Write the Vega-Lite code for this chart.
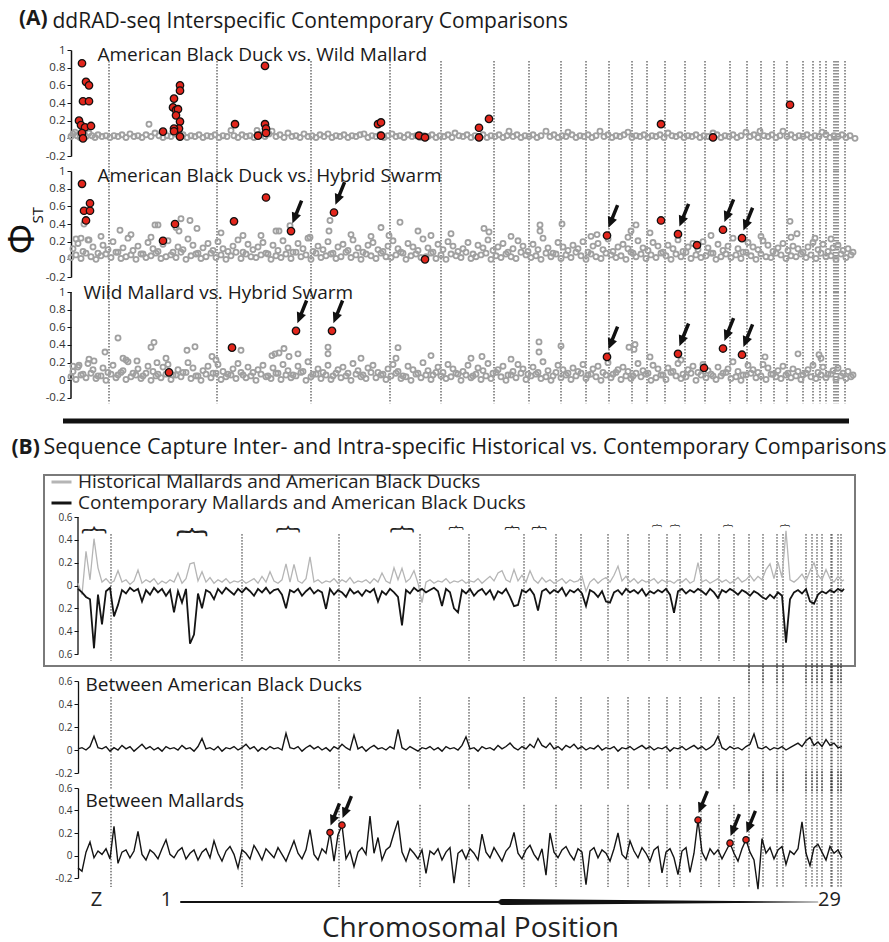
{
"$schema": "https://vega.github.io/schema/vega-lite/v6.json",
"padding": {"left": 5, "top": 8, "right": 5, "bottom": 3},
"config": {
  "view": {"stroke": null},
  "font": "Open Sans",
  "axis": {"grid": false, "domainColor": "#111", "tickColor": "#111", "labelColor": "#333", "labelFont": "Open Sans", "titleFont": "Open Sans", "titleFontWeight": "normal", "titleColor": "#1a1a1a", "labelOverlap": false},
  "title": {"font": "Open Sans", "color": "#1a1a1a", "fontWeight": "normal", "anchor": "start", "frame": "group"}
},
"datasets": {
"ca": [{"p":38},{"p":146},{"p":240},{"p":319},{"p":370},{"p":423},{"p":458},{"p":490},{"p":515},{"p":538},{"p":561},{"p":576},{"p":594},{"p":614},{"p":634},{"p":659},{"p":676},{"p":690},{"p":703},{"p":716},{"p":732},{"p":742},{"p":749},{"p":755},{"p":763},{"p":765},{"p":767},{"p":774}],
"cb": [{"p":33},{"p":164},{"p":261},{"p":342},{"p":391},{"p":446},{"p":478},{"p":503},{"p":530},{"p":550},{"p":571},{"p":589},{"p":602},{"p":623},{"p":641},{"p":656},{"p":671},{"p":685},{"p":699},{"p":705},{"p":728},{"p":734},{"p":739},{"p":744},{"p":753},{"p":754},{"p":760},{"p":763}],
"br": [{"p":16,"w":22},{"p":114,"w":28},{"p":210,"w":21},{"p":324,"w":21},{"p":378,"w":12},{"p":434,"w":12},{"p":461,"w":12},{"p":579,"w":7},{"p":597,"w":7},{"p":650,"w":7},{"p":707,"w":7}],
"wd": [{"p":103,"w":2},{"p":420,"w":2},{"p":424,"w":6},{"p":740,"w":0.6}],
"a1r": [{"p":11,"v":0.85},{"p":15,"v":0.64},{"p":18,"v":0.6},{"p":12,"v":0.42},{"p":18,"v":0.42},{"p":8,"v":0.2},{"p":10,"v":0.15},{"p":14,"v":0.125},{"p":20,"v":0.14},{"p":11,"v":0.06},{"p":12,"v":0.0},{"p":92,"v":0.076},{"p":103,"v":0.45},{"p":102,"v":0.35},{"p":105,"v":0.32},{"p":107,"v":0.33},{"p":105,"v":0.26},{"p":109,"v":0.19},{"p":108,"v":0.11},{"p":103,"v":0.11},{"p":109,"v":0.6},{"p":109,"v":0.54},{"p":109,"v":0.02},{"p":103,"v":0.08},{"p":164,"v":0.16},{"p":194,"v":0.82},{"p":194,"v":0.16},{"p":195,"v":0.11},{"p":187,"v":0.03},{"p":195,"v":0.06},{"p":307,"v":0.16},{"p":310,"v":0.18},{"p":310,"v":0.03},{"p":348,"v":0.03},{"p":354,"v":0.01},{"p":408,"v":0.12},{"p":408,"v":0.01},{"p":418,"v":0.22},{"p":590,"v":0.16},{"p":642,"v":0.01},{"p":719,"v":0.38}],
"a2r": [{"p":11,"v":0.855},{"p":13,"v":0.55},{"p":19,"v":0.55},{"p":19,"v":0.635},{"p":15,"v":0.44},{"p":92,"v":0.21},{"p":104,"v":0.4},{"p":163,"v":0.43},{"p":195,"v":0.7},{"p":220,"v":0.32,"s":1},{"p":263,"v":0.53,"s":1},{"p":354,"v":0.0},{"p":536,"v":0.27,"s":1},{"p":590,"v":0.44},{"p":607,"v":0.285,"s":1},{"p":626,"v":0.16},{"p":652,"v":0.335,"s":1},{"p":671,"v":0.24,"s":1}],
"a3r": [{"p":98,"v":0.09},{"p":161,"v":0.37},{"p":225,"v":0.56,"s":1},{"p":261,"v":0.56,"s":1},{"p":536,"v":0.265,"s":1},{"p":607,"v":0.3,"s":1},{"p":633,"v":0.14},{"p":652,"v":0.36,"s":1},{"p":671,"v":0.29,"s":1}],
"b3r": [{"p":252,"v":0.205},{"p":264,"v":0.27},{"p":620,"v":0.315},{"p":652,"v":0.11},{"p":668,"v":0.14}],
"a1g": [{"p":0,"v":0.02},{"p":2,"v":0.05},{"p":4,"v":0.07},{"p":6,"v":0.03},{"p":9,"v":0.01},{"p":12,"v":0.04},{"p":15,"v":0.02},{"p":18,"v":0.06},{"p":21,"v":0.03},{"p":24,"v":0.01},{"p":27,"v":0.04},{"p":31,"v":0.02},{"p":35,"v":0.03},{"p":39,"v":0.01},{"p":43,"v":0.03},{"p":47,"v":0.02},{"p":51,"v":0.04},{"p":55,"v":0.01},{"p":59,"v":0.05},{"p":63,"v":0.02},{"p":67,"v":0.03},{"p":71,"v":0.01},{"p":75,"v":0.04},{"p":78,"v":0.16},{"p":80,"v":0.02},{"p":84,"v":0.06},{"p":88,"v":0.03},{"p":92,"v":0.01},{"p":96,"v":0.03},{"p":100,"v":0.02},{"p":104,"v":0.05},{"p":108,"v":0.02},{"p":112,"v":0.04},{"p":116,"v":0.01},{"p":120,"v":0.03},{"p":124,"v":0.02},{"p":128,"v":0.04},{"p":132,"v":0.01},{"p":136,"v":0.03},{"p":140,"v":0.02},{"p":144,"v":0.04},{"p":148,"v":0.01},{"p":152,"v":0.03},{"p":156,"v":0.02},{"p":160,"v":0.09},{"p":163,"v":0.03},{"p":167,"v":0.01},{"p":171,"v":0.04},{"p":175,"v":0.02},{"p":179,"v":0.03},{"p":183,"v":0.01},{"p":186,"v":0.09},{"p":190,"v":0.04},{"p":194,"v":0.02},{"p":198,"v":0.05},{"p":201,"v":0.08},{"p":205,"v":0.02},{"p":209,"v":0.04},{"p":213,"v":0.01},{"p":217,"v":0.06},{"p":221,"v":0.02},{"p":225,"v":0.03},{"p":229,"v":0.01},{"p":233,"v":0.05},{"p":237,"v":0.02},{"p":241,"v":0.03},{"p":245,"v":0.01},{"p":249,"v":0.04},{"p":253,"v":0.02},{"p":257,"v":0.05},{"p":261,"v":0.01},{"p":265,"v":0.03},{"p":269,"v":0.02},{"p":273,"v":0.04},{"p":277,"v":0.01},{"p":281,"v":0.03},{"p":285,"v":0.02},{"p":289,"v":0.04},{"p":293,"v":0.05},{"p":297,"v":0.01},{"p":301,"v":0.03},{"p":305,"v":0.02},{"p":309,"v":0.04},{"p":313,"v":0.01},{"p":317,"v":0.03},{"p":321,"v":0.05},{"p":325,"v":0.02},{"p":329,"v":0.03},{"p":333,"v":0.01},{"p":337,"v":0.04},{"p":341,"v":0.02},{"p":345,"v":0.03},{"p":349,"v":0.01},{"p":353,"v":0.03},{"p":357,"v":0.02},{"p":361,"v":0.04},{"p":365,"v":0.01},{"p":369,"v":0.03},{"p":373,"v":0.02},{"p":377,"v":0.04},{"p":381,"v":0.01},{"p":384,"v":0.06},{"p":388,"v":0.03},{"p":392,"v":0.02},{"p":396,"v":0.04},{"p":400,"v":0.01},{"p":404,"v":0.03},{"p":408,"v":0.02},{"p":412,"v":0.04},{"p":416,"v":0.01},{"p":420,"v":0.03},{"p":424,"v":0.02},{"p":428,"v":0.04},{"p":432,"v":0.01},{"p":436,"v":0.03},{"p":438,"v":0.08},{"p":442,"v":0.02},{"p":446,"v":0.04},{"p":450,"v":0.01},{"p":454,"v":0.03},{"p":458,"v":0.02},{"p":462,"v":0.04},{"p":466,"v":0.01},{"p":470,"v":0.03},{"p":475,"v":0.08},{"p":479,"v":0.02},{"p":483,"v":0.04},{"p":487,"v":0.01},{"p":491,"v":0.03},{"p":495,"v":0.02},{"p":497,"v":0.07},{"p":501,"v":0.04},{"p":505,"v":0.01},{"p":509,"v":0.03},{"p":513,"v":0.02},{"p":517,"v":0.04},{"p":521,"v":0.01},{"p":525,"v":0.03},{"p":529,"v":0.08},{"p":533,"v":0.02},{"p":537,"v":0.04},{"p":541,"v":0.01},{"p":545,"v":0.03},{"p":549,"v":0.02},{"p":553,"v":0.04},{"p":557,"v":0.07},{"p":561,"v":0.01},{"p":565,"v":0.03},{"p":569,"v":0.02},{"p":573,"v":0.04},{"p":577,"v":0.01},{"p":581,"v":0.03},{"p":585,"v":0.02},{"p":589,"v":0.04},{"p":593,"v":0.01},{"p":597,"v":0.06},{"p":601,"v":0.03},{"p":605,"v":0.02},{"p":609,"v":0.04},{"p":613,"v":0.01},{"p":617,"v":0.03},{"p":621,"v":0.02},{"p":625,"v":0.04},{"p":629,"v":0.01},{"p":633,"v":0.03},{"p":637,"v":0.02},{"p":642,"v":0.06},{"p":646,"v":0.04},{"p":650,"v":0.01},{"p":654,"v":0.03},{"p":658,"v":0.02},{"p":662,"v":0.04},{"p":666,"v":0.01},{"p":670,"v":0.03},{"p":675,"v":0.07},{"p":679,"v":0.02},{"p":683,"v":0.04},{"p":687,"v":0.01},{"p":689,"v":0.08},{"p":693,"v":0.03},{"p":697,"v":0.02},{"p":701,"v":0.04},{"p":705,"v":0.01},{"p":709,"v":0.03},{"p":712,"v":0.08},{"p":716,"v":0.02},{"p":720,"v":0.04},{"p":724,"v":0.01},{"p":728,"v":0.03},{"p":732,"v":0.02},{"p":736,"v":0.04},{"p":740,"v":0.01},{"p":744,"v":0.03},{"p":748,"v":0.02},{"p":751,"v":0.07},{"p":755,"v":0.04},{"p":759,"v":0.01},{"p":763,"v":0.03},{"p":767,"v":0.02},{"p":771,"v":0.04},{"p":775,"v":0.01},{"p":779,"v":0.03},{"p":784,"v":0.0}],
"a2g": [{"p":0,"v":0.02},{"p":5,"v":0.05},{"p":10,"v":0.01},{"p":15,"v":0.07},{"p":20,"v":0.03},{"p":25,"v":0.0},{"p":30,"v":0.04},{"p":35,"v":0.06},{"p":40,"v":0.02},{"p":45,"v":0.08},{"p":50,"v":0.01},{"p":55,"v":0.03},{"p":60,"v":0.05},{"p":65,"v":0.0},{"p":70,"v":0.06},{"p":75,"v":0.02},{"p":80,"v":0.04},{"p":85,"v":0.07},{"p":90,"v":0.01},{"p":95,"v":0.03},{"p":100,"v":0.05},{"p":105,"v":0.02},{"p":110,"v":0.08},{"p":115,"v":0.0},{"p":120,"v":0.04},{"p":125,"v":0.06},{"p":130,"v":0.01},{"p":135,"v":0.03},{"p":140,"v":0.07},{"p":145,"v":0.02},{"p":150,"v":0.05},{"p":155,"v":0.0},{"p":160,"v":0.04},{"p":165,"v":0.08},{"p":170,"v":0.01},{"p":175,"v":0.06},{"p":180,"v":0.03},{"p":185,"v":0.02},{"p":190,"v":0.05},{"p":195,"v":0.07},{"p":200,"v":0.0},{"p":205,"v":0.04},{"p":210,"v":0.02},{"p":215,"v":0.06},{"p":220,"v":0.01},{"p":225,"v":0.08},{"p":230,"v":0.03},{"p":235,"v":0.05},{"p":240,"v":0.0},{"p":245,"v":0.07},{"p":250,"v":0.02},{"p":255,"v":0.04},{"p":260,"v":0.06},{"p":265,"v":0.01},{"p":270,"v":0.03},{"p":275,"v":0.08},{"p":280,"v":0.02},{"p":285,"v":0.05},{"p":290,"v":0.0},{"p":295,"v":0.06},{"p":300,"v":0.04},{"p":305,"v":0.01},{"p":310,"v":0.07},{"p":315,"v":0.03},{"p":320,"v":0.02},{"p":325,"v":0.05},{"p":330,"v":0.08},{"p":335,"v":0.0},{"p":340,"v":0.04},{"p":345,"v":0.06},{"p":350,"v":0.02},{"p":355,"v":0.03},{"p":360,"v":0.07},{"p":365,"v":0.01},{"p":370,"v":0.05},{"p":375,"v":0.0},{"p":380,"v":0.06},{"p":385,"v":0.04},{"p":390,"v":0.02},{"p":395,"v":0.08},{"p":400,"v":0.01},{"p":405,"v":0.03},{"p":410,"v":0.05},{"p":415,"v":0.07},{"p":420,"v":0.0},{"p":425,"v":0.04},{"p":430,"v":0.02},{"p":435,"v":0.06},{"p":440,"v":0.03},{"p":445,"v":0.01},{"p":450,"v":0.08},{"p":455,"v":0.05},{"p":460,"v":0.02},{"p":465,"v":0.04},{"p":470,"v":0.0},{"p":475,"v":0.07},{"p":480,"v":0.03},{"p":485,"v":0.06},{"p":490,"v":0.01},{"p":495,"v":0.05},{"p":500,"v":0.02},{"p":505,"v":0.08},{"p":510,"v":0.04},{"p":515,"v":0.0},{"p":520,"v":0.06},{"p":525,"v":0.03},{"p":530,"v":0.01},{"p":535,"v":0.07},{"p":540,"v":0.05},{"p":545,"v":0.02},{"p":550,"v":0.04},{"p":555,"v":0.0},{"p":560,"v":0.08},{"p":565,"v":0.03},{"p":570,"v":0.06},{"p":575,"v":0.01},{"p":580,"v":0.05},{"p":585,"v":0.02},{"p":590,"v":0.07},{"p":595,"v":0.04},{"p":600,"v":0.0},{"p":605,"v":0.06},{"p":610,"v":0.03},{"p":615,"v":0.08},{"p":620,"v":0.01},{"p":625,"v":0.05},{"p":630,"v":0.02},{"p":635,"v":0.04},{"p":640,"v":0.07},{"p":645,"v":0.0},{"p":650,"v":0.03},{"p":655,"v":0.06},{"p":660,"v":0.02},{"p":665,"v":0.05},{"p":670,"v":0.01},{"p":675,"v":0.08},{"p":680,"v":0.04},{"p":685,"v":0.0},{"p":690,"v":0.06},{"p":695,"v":0.03},{"p":700,"v":0.02},{"p":705,"v":0.07},{"p":710,"v":0.05},{"p":715,"v":0.01},{"p":720,"v":0.04},{"p":725,"v":0.03},{"p":730,"v":0.06},{"p":735,"v":0.02},{"p":740,"v":0.05},{"p":745,"v":0.01},{"p":750,"v":0.07},{"p":755,"v":0.03},{"p":760,"v":0.04},{"p":765,"v":0.0},{"p":770,"v":0.06},{"p":775,"v":0.02},{"p":780,"v":0.05},
{"p":2,"v":0.12},{"p":7,"v":0.18},{"p":12,"v":0.09},{"p":17,"v":0.22},{"p":22,"v":0.14},{"p":27,"v":0.07},{"p":32,"v":0.16},{"p":37,"v":0.11},{"p":42,"v":0.2},{"p":47,"v":0.08},{"p":52,"v":0.13},{"p":57,"v":0.24},{"p":62,"v":0.1},{"p":67,"v":0.15},{"p":72,"v":0.06},{"p":77,"v":0.19},{"p":82,"v":0.12},{"p":87,"v":0.09},{"p":92,"v":0.17},{"p":97,"v":0.21},{"p":102,"v":0.08},{"p":107,"v":0.14},{"p":112,"v":0.11},{"p":117,"v":0.23},{"p":122,"v":0.16},{"p":127,"v":0.07},{"p":132,"v":0.13},{"p":137,"v":0.18},{"p":142,"v":0.1},{"p":147,"v":0.2},{"p":152,"v":0.12},{"p":157,"v":0.09},{"p":162,"v":0.15},{"p":167,"v":0.22},{"p":172,"v":0.08},{"p":177,"v":0.17},{"p":182,"v":0.11},{"p":187,"v":0.14},{"p":192,"v":0.19},{"p":197,"v":0.06},{"p":202,"v":0.16},{"p":207,"v":0.1},{"p":212,"v":0.21},{"p":217,"v":0.13},{"p":222,"v":0.08},{"p":227,"v":0.18},{"p":232,"v":0.12},{"p":237,"v":0.24},{"p":242,"v":0.09},{"p":247,"v":0.15},{"p":252,"v":0.11},{"p":257,"v":0.2},{"p":262,"v":0.07},{"p":267,"v":0.14},{"p":272,"v":0.17},{"p":277,"v":0.1},{"p":282,"v":0.22},{"p":287,"v":0.13},{"p":292,"v":0.08},{"p":297,"v":0.16},{"p":302,"v":0.19},{"p":307,"v":0.11},{"p":312,"v":0.09},{"p":317,"v":0.15},{"p":322,"v":0.21},{"p":327,"v":0.12},{"p":332,"v":0.07},{"p":337,"v":0.18},{"p":342,"v":0.14},{"p":347,"v":0.1},{"p":352,"v":0.23},{"p":357,"v":0.13},{"p":362,"v":0.08},{"p":367,"v":0.17},{"p":372,"v":0.11},{"p":377,"v":0.2},{"p":382,"v":0.15},{"p":387,"v":0.09},{"p":392,"v":0.12},{"p":397,"v":0.19},{"p":402,"v":0.06},{"p":407,"v":0.16},{"p":412,"v":0.13},{"p":417,"v":0.22},{"p":422,"v":0.1},{"p":427,"v":0.14},{"p":432,"v":0.18},{"p":437,"v":0.08},{"p":442,"v":0.12},{"p":447,"v":0.21},{"p":452,"v":0.15},{"p":457,"v":0.09},{"p":462,"v":0.17},{"p":467,"v":0.11},{"p":472,"v":0.24},{"p":477,"v":0.13},{"p":482,"v":0.07},{"p":487,"v":0.19},{"p":492,"v":0.14},{"p":497,"v":0.1},{"p":502,"v":0.16},{"p":507,"v":0.12},{"p":512,"v":0.2},{"p":517,"v":0.08},{"p":522,"v":0.15},{"p":527,"v":0.18},{"p":532,"v":0.11},{"p":537,"v":0.23},{"p":542,"v":0.09},{"p":547,"v":0.14},{"p":552,"v":0.17},{"p":557,"v":0.12},{"p":562,"v":0.07},{"p":567,"v":0.21},{"p":572,"v":0.13},{"p":577,"v":0.1},{"p":582,"v":0.19},{"p":587,"v":0.15},{"p":592,"v":0.08},{"p":597,"v":0.16},{"p":602,"v":0.12},{"p":607,"v":0.22},{"p":612,"v":0.09},{"p":617,"v":0.14},{"p":622,"v":0.18},{"p":627,"v":0.11},{"p":632,"v":0.2},{"p":637,"v":0.13},{"p":642,"v":0.07},{"p":647,"v":0.17},{"p":652,"v":0.1},{"p":657,"v":0.15},{"p":662,"v":0.24},{"p":667,"v":0.12},{"p":672,"v":0.08},{"p":677,"v":0.19},{"p":682,"v":0.14},{"p":687,"v":0.11},{"p":692,"v":0.21},{"p":697,"v":0.16},{"p":702,"v":0.09},{"p":707,"v":0.13},{"p":712,"v":0.18},{"p":717,"v":0.1},{"p":722,"v":0.15},{"p":727,"v":0.12},{"p":732,"v":0.08},{"p":737,"v":0.14},{"p":742,"v":0.19},{"p":747,"v":0.11},{"p":752,"v":0.17},{"p":757,"v":0.09},{"p":762,"v":0.13},{"p":767,"v":0.16},{"p":772,"v":0.1},{"p":777,"v":0.12},{"p":782,"v":0.08},
{"p":5,"v":0.23},{"p":10,"v":0.24},{"p":13,"v":0.4},{"p":18,"v":0.22},{"p":30,"v":0.26},{"p":49,"v":0.33},{"p":60,"v":0.28},{"p":80,"v":0.25},{"p":84,"v":0.39},{"p":87,"v":0.39},{"p":105,"v":0.36},{"p":108,"v":0.32},{"p":110,"v":0.46},{"p":119,"v":0.44},{"p":126,"v":0.35},{"p":150,"v":0.3},{"p":172,"v":0.27},{"p":190,"v":0.27},{"p":205,"v":0.32},{"p":208,"v":0.32},{"p":219,"v":0.38},{"p":239,"v":0.25},{"p":258,"v":0.32},{"p":259,"v":0.44},{"p":280,"v":0.28},{"p":300,"v":0.26},{"p":310,"v":0.36},{"p":318,"v":0.27},{"p":329,"v":0.42},{"p":347,"v":0.32},{"p":360,"v":0.27},{"p":380,"v":0.29},{"p":413,"v":0.35},{"p":418,"v":0.31},{"p":440,"v":0.26},{"p":469,"v":0.39},{"p":469,"v":0.32},{"p":491,"v":0.4},{"p":520,"v":0.26},{"p":526,"v":0.28},{"p":557,"v":0.25},{"p":560,"v":0.32},{"p":565,"v":0.39},{"p":579,"v":0.3},{"p":640,"v":0.27},{"p":690,"v":0.26},{"p":719,"v":0.43},{"p":726,"v":0.29},{"p":720,"v":0.25},{"p":744,"v":0.24},{"p":760,"v":0.23}],
"a3g": [{"p":0,"v":0.04},{"p":5,"v":0.01},{"p":10,"v":0.06},{"p":15,"v":0.03},{"p":20,"v":0.08},{"p":25,"v":0.02},{"p":30,"v":0.05},{"p":35,"v":0.0},{"p":40,"v":0.07},{"p":45,"v":0.03},{"p":50,"v":0.09},{"p":55,"v":0.01},{"p":60,"v":0.04},{"p":65,"v":0.06},{"p":70,"v":0.02},{"p":75,"v":0.08},{"p":80,"v":0.0},{"p":85,"v":0.05},{"p":90,"v":0.03},{"p":95,"v":0.07},{"p":100,"v":0.01},{"p":105,"v":0.06},{"p":110,"v":0.04},{"p":115,"v":0.09},{"p":120,"v":0.02},{"p":125,"v":0.05},{"p":130,"v":0.0},{"p":135,"v":0.07},{"p":140,"v":0.03},{"p":145,"v":0.08},{"p":150,"v":0.01},{"p":155,"v":0.04},{"p":160,"v":0.06},{"p":165,"v":0.02},{"p":170,"v":0.09},{"p":175,"v":0.03},{"p":180,"v":0.05},{"p":185,"v":0.0},{"p":190,"v":0.07},{"p":195,"v":0.04},{"p":200,"v":0.02},{"p":205,"v":0.08},{"p":210,"v":0.01},{"p":215,"v":0.06},{"p":220,"v":0.03},{"p":225,"v":0.05},{"p":230,"v":0.09},{"p":235,"v":0.0},{"p":240,"v":0.04},{"p":245,"v":0.07},{"p":250,"v":0.02},{"p":255,"v":0.06},{"p":260,"v":0.01},{"p":265,"v":0.08},{"p":270,"v":0.03},{"p":275,"v":0.05},{"p":280,"v":0.0},{"p":285,"v":0.07},{"p":290,"v":0.04},{"p":295,"v":0.02},{"p":300,"v":0.09},{"p":305,"v":0.03},{"p":310,"v":0.06},{"p":315,"v":0.01},{"p":320,"v":0.05},{"p":325,"v":0.08},{"p":330,"v":0.02},{"p":335,"v":0.04},{"p":340,"v":0.0},{"p":345,"v":0.07},{"p":350,"v":0.03},{"p":355,"v":0.06},{"p":360,"v":0.01},{"p":365,"v":0.09},{"p":370,"v":0.05},{"p":375,"v":0.02},{"p":380,"v":0.04},{"p":385,"v":0.08},{"p":390,"v":0.0},{"p":395,"v":0.06},{"p":400,"v":0.03},{"p":405,"v":0.07},{"p":410,"v":0.01},{"p":415,"v":0.05},{"p":420,"v":0.02},{"p":425,"v":0.09},{"p":430,"v":0.04},{"p":435,"v":0.0},{"p":440,"v":0.06},{"p":445,"v":0.03},{"p":450,"v":0.08},{"p":455,"v":0.01},{"p":460,"v":0.05},{"p":465,"v":0.07},{"p":470,"v":0.02},{"p":475,"v":0.04},{"p":480,"v":0.0},{"p":485,"v":0.09},{"p":490,"v":0.03},{"p":495,"v":0.06},{"p":500,"v":0.01},{"p":505,"v":0.05},{"p":510,"v":0.08},{"p":515,"v":0.02},{"p":520,"v":0.07},{"p":525,"v":0.04},{"p":530,"v":0.0},{"p":535,"v":0.06},{"p":540,"v":0.03},{"p":545,"v":0.09},{"p":550,"v":0.01},{"p":555,"v":0.05},{"p":560,"v":0.02},{"p":565,"v":0.08},{"p":570,"v":0.04},{"p":575,"v":0.07},{"p":580,"v":0.0},{"p":585,"v":0.03},{"p":590,"v":0.06},{"p":595,"v":0.01},{"p":600,"v":0.09},{"p":605,"v":0.05},{"p":610,"v":0.02},{"p":615,"v":0.04},{"p":620,"v":0.08},{"p":625,"v":0.0},{"p":630,"v":0.06},{"p":635,"v":0.03},{"p":640,"v":0.07},{"p":645,"v":0.01},{"p":650,"v":0.05},{"p":655,"v":0.09},{"p":660,"v":0.02},{"p":665,"v":0.04},{"p":670,"v":0.0},{"p":675,"v":0.06},{"p":680,"v":0.08},{"p":685,"v":0.03},{"p":690,"v":0.05},{"p":695,"v":0.01},{"p":700,"v":0.07},{"p":705,"v":0.04},{"p":710,"v":0.02},{"p":715,"v":0.06},{"p":720,"v":0.03},{"p":725,"v":0.05},{"p":730,"v":0.01},{"p":735,"v":0.08},{"p":740,"v":0.04},{"p":745,"v":0.02},{"p":750,"v":0.06},{"p":755,"v":0.03},{"p":760,"v":0.07},{"p":765,"v":0.01},{"p":770,"v":0.05},{"p":775,"v":0.02},{"p":780,"v":0.04},
{"p":2,"v":0.1},{"p":7,"v":0.15},{"p":12,"v":0.07},{"p":17,"v":0.19},{"p":22,"v":0.12},{"p":27,"v":0.05},{"p":32,"v":0.14},{"p":37,"v":0.09},{"p":42,"v":0.17},{"p":47,"v":0.06},{"p":52,"v":0.11},{"p":57,"v":0.21},{"p":62,"v":0.08},{"p":67,"v":0.13},{"p":72,"v":0.05},{"p":77,"v":0.16},{"p":82,"v":0.1},{"p":87,"v":0.07},{"p":92,"v":0.15},{"p":97,"v":0.18},{"p":102,"v":0.06},{"p":107,"v":0.12},{"p":112,"v":0.09},{"p":117,"v":0.2},{"p":122,"v":0.14},{"p":127,"v":0.05},{"p":132,"v":0.11},{"p":137,"v":0.16},{"p":142,"v":0.08},{"p":147,"v":0.18},{"p":152,"v":0.1},{"p":157,"v":0.07},{"p":162,"v":0.13},{"p":167,"v":0.19},{"p":172,"v":0.06},{"p":177,"v":0.15},{"p":182,"v":0.09},{"p":187,"v":0.12},{"p":192,"v":0.17},{"p":197,"v":0.05},{"p":202,"v":0.14},{"p":207,"v":0.08},{"p":212,"v":0.18},{"p":217,"v":0.11},{"p":222,"v":0.06},{"p":227,"v":0.16},{"p":232,"v":0.1},{"p":237,"v":0.21},{"p":242,"v":0.07},{"p":247,"v":0.13},{"p":252,"v":0.09},{"p":257,"v":0.17},{"p":262,"v":0.05},{"p":267,"v":0.12},{"p":272,"v":0.15},{"p":277,"v":0.08},{"p":282,"v":0.19},{"p":287,"v":0.11},{"p":292,"v":0.06},{"p":297,"v":0.14},{"p":302,"v":0.17},{"p":307,"v":0.09},{"p":312,"v":0.07},{"p":317,"v":0.13},{"p":322,"v":0.18},{"p":327,"v":0.1},{"p":332,"v":0.05},{"p":337,"v":0.16},{"p":342,"v":0.12},{"p":347,"v":0.08},{"p":352,"v":0.2},{"p":357,"v":0.11},{"p":362,"v":0.06},{"p":367,"v":0.15},{"p":372,"v":0.09},{"p":377,"v":0.18},{"p":382,"v":0.13},{"p":387,"v":0.07},{"p":392,"v":0.1},{"p":397,"v":0.17},{"p":402,"v":0.05},{"p":407,"v":0.14},{"p":412,"v":0.11},{"p":417,"v":0.19},{"p":422,"v":0.08},{"p":427,"v":0.12},{"p":432,"v":0.16},{"p":437,"v":0.06},{"p":442,"v":0.1},{"p":447,"v":0.18},{"p":452,"v":0.13},{"p":457,"v":0.07},{"p":462,"v":0.15},{"p":467,"v":0.09},{"p":472,"v":0.21},{"p":477,"v":0.11},{"p":482,"v":0.05},{"p":487,"v":0.17},{"p":492,"v":0.12},{"p":497,"v":0.08},{"p":502,"v":0.14},{"p":507,"v":0.1},{"p":512,"v":0.18},{"p":517,"v":0.06},{"p":522,"v":0.13},{"p":527,"v":0.16},{"p":532,"v":0.09},{"p":537,"v":0.2},{"p":542,"v":0.07},{"p":547,"v":0.12},{"p":552,"v":0.15},{"p":557,"v":0.1},{"p":562,"v":0.05},{"p":567,"v":0.19},{"p":572,"v":0.11},{"p":577,"v":0.08},{"p":582,"v":0.17},{"p":587,"v":0.13},{"p":592,"v":0.06},{"p":597,"v":0.14},{"p":602,"v":0.1},{"p":607,"v":0.19},{"p":612,"v":0.07},{"p":617,"v":0.12},{"p":622,"v":0.16},{"p":627,"v":0.09},{"p":632,"v":0.18},{"p":637,"v":0.11},{"p":642,"v":0.05},{"p":647,"v":0.15},{"p":652,"v":0.08},{"p":657,"v":0.13},{"p":662,"v":0.21},{"p":667,"v":0.1},{"p":672,"v":0.06},{"p":677,"v":0.17},{"p":682,"v":0.12},{"p":687,"v":0.09},{"p":692,"v":0.18},{"p":697,"v":0.14},{"p":702,"v":0.07},{"p":707,"v":0.11},{"p":712,"v":0.16},{"p":717,"v":0.08},{"p":722,"v":0.13},{"p":727,"v":0.1},{"p":732,"v":0.06},{"p":737,"v":0.12},{"p":742,"v":0.17},{"p":747,"v":0.09},{"p":752,"v":0.15},{"p":757,"v":0.07},{"p":762,"v":0.11},{"p":767,"v":0.14},{"p":772,"v":0.08},{"p":777,"v":0.1},{"p":782,"v":0.06},
{"p":2,"v":0.16},{"p":8,"v":0.17},{"p":18,"v":0.24},{"p":23,"v":0.22},{"p":34,"v":0.32},{"p":47,"v":0.48},{"p":52,"v":0.25},{"p":55,"v":0.23},{"p":66,"v":0.22},{"p":80,"v":0.375},{"p":83,"v":0.43},{"p":86,"v":0.2},{"p":95,"v":0.25},{"p":116,"v":0.34},{"p":124,"v":0.38},{"p":141,"v":0.27},{"p":145,"v":0.23},{"p":170,"v":0.34},{"p":201,"v":0.28},{"p":204,"v":0.3},{"p":208,"v":0.31},{"p":213,"v":0.36},{"p":218,"v":0.27},{"p":227,"v":0.3},{"p":257,"v":0.375},{"p":257,"v":0.3},{"p":290,"v":0.25},{"p":325,"v":0.25},{"p":327,"v":0.37},{"p":360,"v":0.28},{"p":400,"v":0.25},{"p":411,"v":0.27},{"p":440,"v":0.24},{"p":468,"v":0.435},{"p":468,"v":0.32},{"p":490,"v":0.39},{"p":558,"v":0.375},{"p":563,"v":0.35},{"p":564,"v":0.405},{"p":579,"v":0.265},{"p":610,"v":0.23},{"p":694,"v":0.265},{"p":727,"v":0.3},{"p":748,"v":0.29},{"p":750,"v":0.25}],
"bh": [{"p":0,"v":0.02},{"p":4,"v":-0.08},{"p":8,"v":0.3},{"p":12,"v":0.05},{"p":16,"v":0.41},{"p":20,"v":0.155},{"p":24,"v":0.03},{"p":28,"v":0.06},{"p":32,"v":0.02},{"p":36,"v":0.04},{"p":40,"v":0.13},{"p":44,"v":0.03},{"p":48,"v":0.05},{"p":52,"v":0.01},{"p":56,"v":0.04},{"p":60,"v":0.135},{"p":64,"v":0.02},{"p":68,"v":0.05},{"p":72,"v":0.03},{"p":76,"v":0.06},{"p":80,"v":0.01},{"p":84,"v":0.04},{"p":88,"v":0.02},{"p":92,"v":0.05},{"p":96,"v":0.03},{"p":100,"v":0.11},{"p":104,"v":0.02},{"p":108,"v":0.06},{"p":112,"v":0.19},{"p":116,"v":0.2},{"p":120,"v":0.04},{"p":124,"v":0.12},{"p":128,"v":0.03},{"p":132,"v":0.07},{"p":136,"v":0.02},{"p":140,"v":0.05},{"p":144,"v":0.03},{"p":148,"v":0.06},{"p":152,"v":0.02},{"p":156,"v":0.04},{"p":160,"v":0.03},{"p":164,"v":0.05},{"p":168,"v":0.02},{"p":172,"v":0.04},{"p":176,"v":0.06},{"p":180,"v":0.02},{"p":184,"v":0.08},{"p":188,"v":0.03},{"p":192,"v":0.12},{"p":196,"v":0.04},{"p":200,"v":0.02},{"p":204,"v":0.05},{"p":208,"v":0.19},{"p":212,"v":0.03},{"p":216,"v":0.185},{"p":220,"v":0.04},{"p":224,"v":0.02},{"p":228,"v":0.06},{"p":232,"v":0.25},{"p":236,"v":0.03},{"p":240,"v":0.05},{"p":244,"v":0.02},{"p":248,"v":0.04},{"p":252,"v":0.03},{"p":256,"v":0.06},{"p":260,"v":0.02},{"p":264,"v":0.05},{"p":268,"v":0.03},{"p":272,"v":0.07},{"p":276,"v":0.02},{"p":280,"v":0.04},{"p":284,"v":0.03},{"p":288,"v":0.05},{"p":292,"v":0.02},{"p":296,"v":0.06},{"p":300,"v":0.03},{"p":304,"v":0.11},{"p":308,"v":0.04},{"p":312,"v":0.02},{"p":316,"v":0.155},{"p":320,"v":0.05},{"p":324,"v":0.15},{"p":328,"v":0.03},{"p":332,"v":0.06},{"p":336,"v":0.13},{"p":340,"v":0.02},{"p":344,"v":-0.15},{"p":348,"v":0.03},{"p":352,"v":0.05},{"p":356,"v":0.02},{"p":360,"v":0.04},{"p":364,"v":0.03},{"p":368,"v":0.06},{"p":372,"v":0.02},{"p":376,"v":0.04},{"p":380,"v":0.03},{"p":384,"v":0.05},{"p":388,"v":0.02},{"p":392,"v":0.04},{"p":396,"v":0.03},{"p":400,"v":0.06},{"p":404,"v":0.02},{"p":408,"v":0.05},{"p":412,"v":0.08},{"p":416,"v":0.04},{"p":420,"v":0.11},{"p":424,"v":0.13},{"p":428,"v":0.05},{"p":432,"v":0.03},{"p":436,"v":0.14},{"p":440,"v":0.04},{"p":444,"v":0.09},{"p":448,"v":0.03},{"p":452,"v":0.13},{"p":456,"v":0.05},{"p":460,"v":0.02},{"p":464,"v":0.07},{"p":468,"v":0.03},{"p":472,"v":0.05},{"p":476,"v":0.02},{"p":480,"v":0.04},{"p":484,"v":0.06},{"p":488,"v":0.02},{"p":492,"v":0.05},{"p":496,"v":0.03},{"p":500,"v":0.04},{"p":504,"v":0.08},{"p":508,"v":-0.05},{"p":512,"v":0.03},{"p":516,"v":0.06},{"p":520,"v":0.02},{"p":524,"v":0.05},{"p":528,"v":0.07},{"p":532,"v":0.03},{"p":536,"v":0.09},{"p":540,"v":0.17},{"p":544,"v":0.04},{"p":548,"v":0.08},{"p":552,"v":0.03},{"p":556,"v":0.06},{"p":560,"v":0.02},{"p":564,"v":0.05},{"p":568,"v":0.03},{"p":572,"v":0.04},{"p":576,"v":0.06},{"p":580,"v":0.02},{"p":584,"v":0.05},{"p":588,"v":0.03},{"p":592,"v":0.04},{"p":596,"v":0.02},{"p":600,"v":0.05},{"p":604,"v":0.03},{"p":608,"v":0.06},{"p":612,"v":0.02},{"p":616,"v":0.04},{"p":620,"v":0.2},{"p":624,"v":0.03},{"p":628,"v":0.05},{"p":632,"v":0.02},{"p":636,"v":0.04},{"p":640,"v":0.06},{"p":644,"v":0.03},{"p":648,"v":0.05},{"p":652,"v":0.02},{"p":656,"v":0.04},{"p":660,"v":0.07},{"p":664,"v":0.03},{"p":668,"v":0.05},{"p":672,"v":0.09},{"p":676,"v":0.04},{"p":680,"v":0.08},{"p":684,"v":0.05},{"p":688,"v":0.14},{"p":692,"v":0.19},{"p":696,"v":0.06},{"p":700,"v":0.205},{"p":704,"v":0.07},{"p":708,"v":0.48},{"p":712,"v":0.05},{"p":716,"v":0.03},{"p":720,"v":0.06},{"p":724,"v":0.1},{"p":728,"v":0.04},{"p":732,"v":0.13},{"p":736,"v":0.2},{"p":740,"v":0.09},{"p":744,"v":0.05},{"p":748,"v":0.14},{"p":752,"v":0.06},{"p":756,"v":0.03},{"p":760,"v":0.08},{"p":764,"v":0.04},{"p":766,"v":0.05}],
"bc": [{"p":0,"v":-0.03},{"p":4,"v":-0.06},{"p":8,"v":-0.1},{"p":12,"v":-0.12},{"p":16,"v":-0.55},{"p":20,"v":-0.08},{"p":24,"v":-0.34},{"p":28,"v":-0.05},{"p":32,"v":-0.02},{"p":36,"v":-0.27},{"p":40,"v":-0.17},{"p":44,"v":-0.04},{"p":48,"v":-0.07},{"p":52,"v":-0.02},{"p":56,"v":-0.05},{"p":60,"v":-0.03},{"p":64,"v":-0.14},{"p":68,"v":-0.04},{"p":72,"v":-0.08},{"p":76,"v":-0.02},{"p":80,"v":-0.06},{"p":84,"v":-0.03},{"p":88,"v":-0.09},{"p":92,"v":-0.04},{"p":96,"v":-0.235},{"p":100,"v":-0.05},{"p":104,"v":-0.15},{"p":108,"v":-0.03},{"p":112,"v":-0.51},{"p":116,"v":-0.43},{"p":120,"v":-0.07},{"p":124,"v":-0.2},{"p":128,"v":-0.04},{"p":132,"v":-0.06},{"p":136,"v":-0.12},{"p":140,"v":-0.03},{"p":144,"v":-0.07},{"p":148,"v":-0.02},{"p":152,"v":-0.05},{"p":156,"v":-0.08},{"p":160,"v":-0.03},{"p":164,"v":-0.06},{"p":168,"v":-0.02},{"p":172,"v":-0.05},{"p":176,"v":-0.09},{"p":180,"v":-0.03},{"p":184,"v":-0.06},{"p":188,"v":-0.02},{"p":192,"v":-0.07},{"p":196,"v":-0.04},{"p":200,"v":-0.03},{"p":204,"v":-0.08},{"p":208,"v":-0.2},{"p":212,"v":-0.04},{"p":216,"v":-0.06},{"p":220,"v":-0.03},{"p":224,"v":-0.09},{"p":228,"v":-0.05},{"p":232,"v":-0.02},{"p":236,"v":-0.07},{"p":240,"v":-0.04},{"p":244,"v":-0.06},{"p":248,"v":-0.205},{"p":252,"v":-0.03},{"p":256,"v":-0.08},{"p":260,"v":-0.04},{"p":264,"v":-0.06},{"p":268,"v":-0.1},{"p":272,"v":-0.03},{"p":276,"v":-0.07},{"p":280,"v":-0.05},{"p":284,"v":-0.09},{"p":288,"v":-0.04},{"p":292,"v":-0.06},{"p":296,"v":-0.03},{"p":300,"v":-0.14},{"p":304,"v":-0.05},{"p":308,"v":-0.08},{"p":312,"v":-0.03},{"p":316,"v":-0.06},{"p":320,"v":-0.1},{"p":324,"v":-0.35},{"p":328,"v":-0.04},{"p":332,"v":-0.07},{"p":336,"v":-0.02},{"p":340,"v":-0.05},{"p":344,"v":-0.03},{"p":348,"v":-0.06},{"p":352,"v":-0.04},{"p":356,"v":-0.02},{"p":360,"v":-0.05},{"p":364,"v":-0.18},{"p":368,"v":-0.03},{"p":372,"v":-0.06},{"p":376,"v":-0.2},{"p":380,"v":-0.235},{"p":384,"v":-0.04},{"p":388,"v":-0.07},{"p":392,"v":-0.03},{"p":396,"v":-0.09},{"p":400,"v":-0.05},{"p":404,"v":-0.03},{"p":408,"v":-0.08},{"p":412,"v":-0.04},{"p":416,"v":-0.12},{"p":420,"v":-0.05},{"p":424,"v":-0.07},{"p":428,"v":-0.03},{"p":432,"v":-0.1},{"p":436,"v":-0.18},{"p":440,"v":-0.17},{"p":444,"v":-0.04},{"p":448,"v":-0.06},{"p":452,"v":-0.03},{"p":456,"v":-0.08},{"p":460,"v":-0.22},{"p":464,"v":-0.05},{"p":468,"v":-0.03},{"p":472,"v":-0.07},{"p":476,"v":-0.04},{"p":480,"v":-0.06},{"p":484,"v":-0.02},{"p":488,"v":-0.09},{"p":492,"v":-0.04},{"p":496,"v":-0.06},{"p":500,"v":-0.03},{"p":504,"v":-0.07},{"p":508,"v":-0.18},{"p":512,"v":-0.04},{"p":516,"v":-0.06},{"p":520,"v":-0.1},{"p":524,"v":-0.05},{"p":528,"v":-0.14},{"p":532,"v":-0.15},{"p":536,"v":-0.06},{"p":540,"v":-0.04},{"p":544,"v":-0.08},{"p":548,"v":-0.03},{"p":552,"v":-0.06},{"p":556,"v":-0.04},{"p":560,"v":-0.07},{"p":564,"v":-0.03},{"p":568,"v":-0.09},{"p":572,"v":-0.05},{"p":576,"v":-0.07},{"p":580,"v":-0.04},{"p":584,"v":-0.06},{"p":588,"v":-0.03},{"p":592,"v":-0.08},{"p":596,"v":-0.24},{"p":600,"v":-0.05},{"p":604,"v":-0.03},{"p":608,"v":-0.07},{"p":612,"v":-0.04},{"p":616,"v":-0.06},{"p":620,"v":-0.03},{"p":624,"v":-0.05},{"p":628,"v":-0.08},{"p":632,"v":-0.03},{"p":636,"v":-0.06},{"p":640,"v":-0.11},{"p":644,"v":-0.04},{"p":648,"v":-0.06},{"p":652,"v":-0.03},{"p":656,"v":-0.05},{"p":660,"v":-0.08},{"p":664,"v":-0.04},{"p":668,"v":-0.06},{"p":672,"v":-0.09},{"p":676,"v":-0.05},{"p":680,"v":-0.07},{"p":684,"v":-0.1},{"p":688,"v":-0.12},{"p":692,"v":-0.08},{"p":696,"v":-0.11},{"p":700,"v":-0.06},{"p":704,"v":-0.09},{"p":708,"v":-0.5},{"p":712,"v":-0.12},{"p":716,"v":-0.06},{"p":720,"v":-0.04},{"p":724,"v":-0.07},{"p":728,"v":-0.03},{"p":732,"v":-0.14},{"p":736,"v":-0.16},{"p":740,"v":-0.08},{"p":744,"v":-0.05},{"p":748,"v":-0.07},{"p":752,"v":-0.04},{"p":756,"v":-0.06},{"p":760,"v":-0.03},{"p":764,"v":-0.05},{"p":766,"v":-0.03}],
"b2": [{"p":0,"v":0.01},{"p":4,"v":0.02},{"p":8,"v":0.0},{"p":12,"v":0.03},{"p":16,"v":0.12},{"p":20,"v":0.02},{"p":24,"v":0.01},{"p":28,"v":0.03},{"p":32,"v":-0.01},{"p":36,"v":0.02},{"p":40,"v":0.0},{"p":44,"v":0.04},{"p":48,"v":0.01},{"p":52,"v":0.03},{"p":56,"v":-0.01},{"p":60,"v":0.02},{"p":64,"v":0.05},{"p":68,"v":0.01},{"p":72,"v":0.03},{"p":76,"v":0.0},{"p":80,"v":0.02},{"p":84,"v":-0.01},{"p":88,"v":0.03},{"p":92,"v":0.01},{"p":96,"v":0.02},{"p":100,"v":0.0},{"p":104,"v":0.04},{"p":108,"v":0.01},{"p":112,"v":0.02},{"p":116,"v":-0.01},{"p":120,"v":0.03},{"p":124,"v":0.1},{"p":128,"v":0.01},{"p":132,"v":0.02},{"p":136,"v":0.0},{"p":140,"v":0.03},{"p":144,"v":-0.01},{"p":148,"v":0.02},{"p":152,"v":0.01},{"p":156,"v":0.03},{"p":160,"v":0.0},{"p":164,"v":0.02},{"p":168,"v":0.05},{"p":172,"v":0.01},{"p":176,"v":0.03},{"p":180,"v":-0.01},{"p":184,"v":0.02},{"p":188,"v":0.0},{"p":192,"v":0.03},{"p":196,"v":0.01},{"p":200,"v":0.02},{"p":204,"v":0.0},{"p":208,"v":0.145},{"p":212,"v":0.02},{"p":216,"v":0.01},{"p":220,"v":0.03},{"p":224,"v":-0.01},{"p":228,"v":0.02},{"p":232,"v":0.04},{"p":236,"v":0.01},{"p":240,"v":0.03},{"p":244,"v":0.0},{"p":248,"v":0.02},{"p":252,"v":-0.01},{"p":256,"v":0.03},{"p":260,"v":0.01},{"p":264,"v":0.05},{"p":268,"v":0.02},{"p":272,"v":0.0},{"p":276,"v":0.13},{"p":280,"v":0.01},{"p":284,"v":0.03},{"p":288,"v":-0.01},{"p":292,"v":0.02},{"p":296,"v":0.04},{"p":300,"v":0.01},{"p":304,"v":0.02},{"p":308,"v":0.0},{"p":312,"v":0.03},{"p":316,"v":0.01},{"p":320,"v":0.18},{"p":324,"v":0.02},{"p":328,"v":0.0},{"p":332,"v":0.03},{"p":336,"v":0.01},{"p":340,"v":-0.01},{"p":344,"v":0.02},{"p":348,"v":0.01},{"p":352,"v":0.03},{"p":356,"v":0.0},{"p":360,"v":0.02},{"p":364,"v":-0.01},{"p":368,"v":0.03},{"p":372,"v":0.01},{"p":376,"v":0.02},{"p":380,"v":0.0},{"p":384,"v":0.04},{"p":388,"v":0.115},{"p":392,"v":0.01},{"p":396,"v":0.02},{"p":400,"v":-0.01},{"p":404,"v":0.03},{"p":408,"v":0.01},{"p":412,"v":0.02},{"p":416,"v":0.0},{"p":420,"v":0.04},{"p":424,"v":0.01},{"p":428,"v":0.03},{"p":432,"v":0.06},{"p":436,"v":0.02},{"p":440,"v":0.0},{"p":444,"v":0.03},{"p":448,"v":0.01},{"p":452,"v":0.05},{"p":456,"v":0.02},{"p":460,"v":0.1},{"p":464,"v":0.04},{"p":468,"v":0.02},{"p":472,"v":0.06},{"p":476,"v":0.01},{"p":480,"v":0.03},{"p":484,"v":0.0},{"p":488,"v":0.04},{"p":492,"v":0.02},{"p":496,"v":0.05},{"p":500,"v":0.01},{"p":504,"v":0.03},{"p":508,"v":0.0},{"p":512,"v":0.02},{"p":516,"v":0.01},{"p":520,"v":0.04},{"p":524,"v":0.0},{"p":528,"v":0.02},{"p":532,"v":0.01},{"p":536,"v":0.03},{"p":540,"v":-0.01},{"p":544,"v":0.02},{"p":548,"v":0.01},{"p":552,"v":0.03},{"p":556,"v":0.0},{"p":560,"v":0.02},{"p":564,"v":0.04},{"p":568,"v":0.01},{"p":572,"v":0.03},{"p":576,"v":0.0},{"p":580,"v":0.02},{"p":584,"v":0.01},{"p":588,"v":0.03},{"p":592,"v":-0.01},{"p":596,"v":0.02},{"p":600,"v":0.01},{"p":604,"v":0.03},{"p":608,"v":0.0},{"p":612,"v":0.02},{"p":616,"v":0.04},{"p":620,"v":0.01},{"p":624,"v":0.03},{"p":628,"v":0.0},{"p":632,"v":0.02},{"p":636,"v":0.05},{"p":640,"v":0.12},{"p":644,"v":0.02},{"p":648,"v":0.0},{"p":652,"v":0.03},{"p":656,"v":0.01},{"p":660,"v":0.02},{"p":664,"v":0.0},{"p":668,"v":0.03},{"p":672,"v":0.05},{"p":676,"v":0.14},{"p":680,"v":0.02},{"p":684,"v":0.01},{"p":688,"v":0.03},{"p":692,"v":0.0},{"p":696,"v":0.02},{"p":700,"v":0.01},{"p":704,"v":0.03},{"p":708,"v":0.0},{"p":712,"v":0.02},{"p":716,"v":0.04},{"p":720,"v":0.06},{"p":724,"v":0.03},{"p":728,"v":0.08},{"p":732,"v":0.11},{"p":736,"v":0.04},{"p":740,"v":0.07},{"p":744,"v":0.03},{"p":748,"v":0.09},{"p":752,"v":0.04},{"p":756,"v":0.06},{"p":760,"v":0.02},{"p":764,"v":0.03}],
"b3": [{"p":0,"v":-0.11},{"p":4,"v":-0.14},{"p":8,"v":0.03},{"p":12,"v":0.12},{"p":16,"v":-0.02},{"p":20,"v":0.04},{"p":24,"v":0.01},{"p":28,"v":0.06},{"p":32,"v":-0.03},{"p":36,"v":0.26},{"p":40,"v":-0.07},{"p":44,"v":0.03},{"p":48,"v":0.05},{"p":52,"v":-0.02},{"p":56,"v":0.04},{"p":60,"v":0.215},{"p":64,"v":0.01},{"p":68,"v":-0.04},{"p":72,"v":0.05},{"p":76,"v":0.02},{"p":80,"v":-0.03},{"p":84,"v":0.06},{"p":88,"v":0.14},{"p":92,"v":0.01},{"p":96,"v":-0.02},{"p":100,"v":0.04},{"p":104,"v":0.07},{"p":108,"v":-0.03},{"p":112,"v":0.02},{"p":116,"v":0.05},{"p":120,"v":-0.04},{"p":124,"v":0.03},{"p":128,"v":0.06},{"p":132,"v":-0.02},{"p":136,"v":0.13},{"p":140,"v":0.02},{"p":144,"v":-0.05},{"p":148,"v":0.04},{"p":152,"v":0.08},{"p":156,"v":0.01},{"p":160,"v":-0.11},{"p":164,"v":0.05},{"p":168,"v":0.02},{"p":172,"v":-0.03},{"p":176,"v":0.09},{"p":180,"v":0.03},{"p":184,"v":-0.04},{"p":188,"v":0.06},{"p":192,"v":0.02},{"p":196,"v":-0.02},{"p":200,"v":0.07},{"p":204,"v":0.01},{"p":208,"v":-0.05},{"p":212,"v":0.04},{"p":216,"v":0.13},{"p":220,"v":0.02},{"p":224,"v":-0.03},{"p":228,"v":0.05},{"p":232,"v":0.23},{"p":236,"v":0.01},{"p":240,"v":-0.04},{"p":244,"v":0.06},{"p":248,"v":0.02},{"p":252,"v":0.205},{"p":256,"v":-0.05},{"p":260,"v":0.185},{"p":264,"v":0.27},{"p":268,"v":-0.03},{"p":272,"v":0.04},{"p":276,"v":-0.1},{"p":280,"v":0.03},{"p":284,"v":0.07},{"p":288,"v":0.01},{"p":292,"v":0.35},{"p":296,"v":0.02},{"p":300,"v":0.16},{"p":304,"v":-0.04},{"p":308,"v":0.05},{"p":312,"v":0.08},{"p":316,"v":0.2},{"p":320,"v":0.31},{"p":324,"v":0.03},{"p":328,"v":-0.05},{"p":332,"v":0.06},{"p":336,"v":0.02},{"p":340,"v":-0.03},{"p":344,"v":0.05},{"p":348,"v":-0.16},{"p":352,"v":0.04},{"p":356,"v":0.01},{"p":360,"v":0.06},{"p":364,"v":-0.04},{"p":368,"v":0.03},{"p":372,"v":0.07},{"p":376,"v":-0.245},{"p":380,"v":0.02},{"p":384,"v":0.05},{"p":388,"v":-0.03},{"p":392,"v":0.06},{"p":396,"v":0.02},{"p":400,"v":-0.04},{"p":404,"v":0.19},{"p":408,"v":0.03},{"p":412,"v":-0.02},{"p":416,"v":0.07},{"p":420,"v":0.01},{"p":424,"v":-0.05},{"p":428,"v":0.04},{"p":432,"v":0.08},{"p":436,"v":0.205},{"p":440,"v":0.02},{"p":444,"v":-0.03},{"p":448,"v":0.05},{"p":452,"v":0.09},{"p":456,"v":0.01},{"p":460,"v":-0.04},{"p":464,"v":0.06},{"p":468,"v":-0.175},{"p":472,"v":0.2},{"p":476,"v":0.03},{"p":480,"v":-0.02},{"p":484,"v":0.05},{"p":488,"v":0.08},{"p":492,"v":0.01},{"p":496,"v":-0.04},{"p":500,"v":0.06},{"p":504,"v":0.03},{"p":508,"v":-0.26},{"p":512,"v":0.04},{"p":516,"v":0.07},{"p":520,"v":-0.02},{"p":524,"v":0.05},{"p":528,"v":0.02},{"p":532,"v":-0.05},{"p":536,"v":0.06},{"p":540,"v":0.2},{"p":544,"v":0.01},{"p":548,"v":-0.03},{"p":552,"v":0.13},{"p":556,"v":0.04},{"p":560,"v":-0.02},{"p":564,"v":0.07},{"p":568,"v":0.02},{"p":572,"v":-0.05},{"p":576,"v":0.05},{"p":580,"v":0.08},{"p":584,"v":-0.155},{"p":588,"v":0.03},{"p":592,"v":0.06},{"p":596,"v":-0.02},{"p":600,"v":-0.17},{"p":604,"v":0.04},{"p":608,"v":0.07},{"p":612,"v":-0.15},{"p":616,"v":0.02},{"p":620,"v":0.315},{"p":624,"v":0.03},{"p":628,"v":-0.04},{"p":632,"v":0.06},{"p":636,"v":0.01},{"p":640,"v":0.05},{"p":644,"v":-0.03},{"p":648,"v":0.04},{"p":652,"v":0.11},{"p":656,"v":0.02},{"p":660,"v":-0.05},{"p":664,"v":0.06},{"p":668,"v":0.14},{"p":672,"v":0.03},{"p":676,"v":-0.04},{"p":680,"v":-0.3},{"p":684,"v":0.15},{"p":688,"v":0.02},{"p":692,"v":0.07},{"p":696,"v":-0.03},{"p":700,"v":0.05},{"p":704,"v":0.08},{"p":708,"v":-0.08},{"p":712,"v":0.04},{"p":716,"v":0.01},{"p":720,"v":0.06},{"p":724,"v":0.3},{"p":728,"v":0.02},{"p":732,"v":-0.09},{"p":736,"v":0.07},{"p":740,"v":0.1},{"p":744,"v":0.03},{"p":748,"v":-0.04},{"p":752,"v":0.08},{"p":756,"v":0.02},{"p":760,"v":0.05},{"p":764,"v":-0.02}]
},
"bounds": "flush",
"spacing": 15,
"vconcat": [
  {
    "width": 811, "height": 106,
    "title": {"text": "(A)", "fontWeight": "bold", "fontSize": 21, "dx": -25, "offset": -36, "baseline": "alphabetic"},
    "layer": [
      {"data": {"name": "ca"}, "mark": {"type": "rule", "strokeDash": [1.5, 1.5], "color": "#222", "strokeWidth": 1},
       "encoding": {
         "x": {"field": "p", "type": "quantitative", "scale": {"domain": [-27, 784], "nice": false, "zero": false}, "axis": {"orient": "top", "domain": false, "ticks": false, "labels": false, "title": "American Black Duck vs. Wild Mallard", "titleX": 53, "titleY": 10, "titleAlign": "left", "titleAngle": 0, "titleBaseline": "alphabetic", "titleFontSize": 19}},
         "y": {"datum": 0.875, "type": "quantitative", "scale": {"domain": [-0.2, 1], "nice": false, "zero": false}, "axis": {"offset": -27, "values": [-0.2, 0, 0.2, 0.4, 0.6, 0.8, 1], "labelExpr": "'' + datum.value", "labelOverlap": false, "tickSize": 4, "labelFontSize": 11.5, "domainWidth": 1.5, "title": "ddRAD-seq Interspecific Contemporary Comparisons", "titleAngle": 0, "titleAlign": "left", "titleBaseline": "alphabetic", "titleX": -19, "titleY": -23, "titleFontSize": 21}},
         "y2": {"datum": -0.37}}},
      {"data": {"name": "a1g"}, "mark": {"type": "point", "shape": "circle", "filled": false, "color": "#a0a0a0", "strokeWidth": 1.8, "size": 26, "opacity": 1},
       "encoding": {
         "x": {"field": "p", "type": "quantitative", "scale": {"domain": [-27, 784], "nice": false, "zero": false}, "axis": {"orient": "top", "domain": false, "ticks": false, "labels": false, "title": "American Black Duck vs. Wild Mallard", "titleX": 53, "titleY": 10, "titleAlign": "left", "titleAngle": 0, "titleBaseline": "alphabetic", "titleFontSize": 19}},
         "y": {"field": "v", "type": "quantitative", "scale": {"domain": [-0.2, 1], "nice": false, "zero": false}, "axis": {"offset": -27, "values": [-0.2, 0, 0.2, 0.4, 0.6, 0.8, 1], "labelExpr": "'' + datum.value", "labelOverlap": false, "tickSize": 4, "labelFontSize": 11.5, "domainWidth": 1.5, "title": "ddRAD-seq Interspecific Contemporary Comparisons", "titleAngle": 0, "titleAlign": "left", "titleBaseline": "alphabetic", "titleX": -19, "titleY": -23, "titleFontSize": 21}}}},
      {"data": {"name": "a1r"}, "mark": {"type": "point", "shape": "circle", "filled": true, "fill": "#e2261c", "stroke": "#111", "strokeWidth": 1.3, "size": 55, "opacity": 1},
       "encoding": {
         "x": {"field": "p", "type": "quantitative", "scale": {"domain": [-27, 784], "nice": false, "zero": false}, "axis": {"orient": "top", "domain": false, "ticks": false, "labels": false, "title": "American Black Duck vs. Wild Mallard", "titleX": 53, "titleY": 10, "titleAlign": "left", "titleAngle": 0, "titleBaseline": "alphabetic", "titleFontSize": 19}},
         "y": {"field": "v", "type": "quantitative", "scale": {"domain": [-0.2, 1], "nice": false, "zero": false}, "axis": {"offset": -27, "values": [-0.2, 0, 0.2, 0.4, 0.6, 0.8, 1], "labelExpr": "'' + datum.value", "labelOverlap": false, "tickSize": 4, "labelFontSize": 11.5, "domainWidth": 1.5, "title": "ddRAD-seq Interspecific Contemporary Comparisons", "titleAngle": 0, "titleAlign": "left", "titleBaseline": "alphabetic", "titleX": -19, "titleY": -23, "titleFontSize": 21}}}}
    ]
  },
  {
    "width": 811, "height": 106,
    "layer": [
      {"data": {"name": "ca"}, "mark": {"type": "rule", "strokeDash": [1.5, 1.5], "color": "#222", "strokeWidth": 1},
       "encoding": {
         "x": {"field": "p", "type": "quantitative", "scale": {"domain": [-27, 784], "nice": false, "zero": false}, "axis": {"orient": "top", "domain": false, "ticks": false, "labels": false, "title": "American Black Duck vs. Hybrid Swarm", "titleX": 53, "titleY": 10, "titleAlign": "left", "titleAngle": 0, "titleBaseline": "alphabetic", "titleFontSize": 19}},
         "y": {"datum": 1.0, "type": "quantitative", "scale": {"domain": [-0.2, 1], "nice": false, "zero": false}, "axis": {"offset": -27, "values": [-0.2, 0, 0.2, 0.4, 0.6, 0.8, 1], "labelExpr": "'' + datum.value", "labelOverlap": false, "tickSize": 4, "labelFontSize": 11.5, "domainWidth": 1.5, "title": null}},
         "y2": {"datum": -0.37}}},
      {"data": {"name": "a2g"}, "mark": {"type": "point", "shape": "circle", "filled": false, "color": "#a0a0a0", "strokeWidth": 1.8, "size": 26, "opacity": 1},
       "encoding": {
         "x": {"field": "p", "type": "quantitative", "scale": {"domain": [-27, 784], "nice": false, "zero": false}, "axis": {"orient": "top", "domain": false, "ticks": false, "labels": false, "title": "American Black Duck vs. Hybrid Swarm", "titleX": 53, "titleY": 10, "titleAlign": "left", "titleAngle": 0, "titleBaseline": "alphabetic", "titleFontSize": 19}},
         "y": {"field": "v", "type": "quantitative", "scale": {"domain": [-0.2, 1], "nice": false, "zero": false}, "axis": {"offset": -27, "values": [-0.2, 0, 0.2, 0.4, 0.6, 0.8, 1], "labelExpr": "'' + datum.value", "labelOverlap": false, "tickSize": 4, "labelFontSize": 11.5, "domainWidth": 1.5, "title": null}}}},
      {"data": {"name": "a2r"}, "mark": {"type": "point", "shape": "circle", "filled": true, "fill": "#e2261c", "stroke": "#111", "strokeWidth": 1.3, "size": 55, "opacity": 1},
       "encoding": {
         "x": {"field": "p", "type": "quantitative", "scale": {"domain": [-27, 784], "nice": false, "zero": false}, "axis": {"orient": "top", "domain": false, "ticks": false, "labels": false, "title": "American Black Duck vs. Hybrid Swarm", "titleX": 53, "titleY": 10, "titleAlign": "left", "titleAngle": 0, "titleBaseline": "alphabetic", "titleFontSize": 19}},
         "y": {"field": "v", "type": "quantitative", "scale": {"domain": [-0.2, 1], "nice": false, "zero": false}, "axis": {"offset": -27, "values": [-0.2, 0, 0.2, 0.4, 0.6, 0.8, 1], "labelExpr": "'' + datum.value", "labelOverlap": false, "tickSize": 4, "labelFontSize": 11.5, "domainWidth": 1.5, "title": null}}}},
      {"data": {"name": "a2r"}, "transform": [{"filter": "datum.s == 1"}], "mark": {"type": "point", "shape": "arrow", "filled": true, "color": "#111", "size": 600, "angle": 202, "xOffset": 6, "yOffset": -19, "opacity": 1},
       "encoding": {
         "x": {"field": "p", "type": "quantitative", "scale": {"domain": [-27, 784], "nice": false, "zero": false}, "axis": {"orient": "top", "domain": false, "ticks": false, "labels": false, "title": "American Black Duck vs. Hybrid Swarm", "titleX": 53, "titleY": 10, "titleAlign": "left", "titleAngle": 0, "titleBaseline": "alphabetic", "titleFontSize": 19}},
         "y": {"field": "v", "type": "quantitative", "scale": {"domain": [-0.2, 1], "nice": false, "zero": false}, "axis": {"offset": -27, "values": [-0.2, 0, 0.2, 0.4, 0.6, 0.8, 1], "labelExpr": "'' + datum.value", "labelOverlap": false, "tickSize": 4, "labelFontSize": 11.5, "domainWidth": 1.5, "title": null}}}},
      {"data": {"values": [{}]}, "mark": {"type": "text", "text": "Φ", "angle": 270, "fontSize": 36, "font": "Noto Sans", "fill": "#111", "baseline": "alphabetic", "align": "center"},
       "encoding": {
         "x": {"datum": -37, "type": "quantitative", "scale": {"domain": [-27, 784], "nice": false, "zero": false}, "axis": {"orient": "top", "domain": false, "ticks": false, "labels": false, "title": "American Black Duck vs. Hybrid Swarm", "titleX": 53, "titleY": 10, "titleAlign": "left", "titleAngle": 0, "titleBaseline": "alphabetic", "titleFontSize": 19}},
         "y": {"datum": 0.23, "type": "quantitative", "scale": {"domain": [-0.2, 1], "nice": false, "zero": false}, "axis": {"offset": -27, "values": [-0.2, 0, 0.2, 0.4, 0.6, 0.8, 1], "labelExpr": "'' + datum.value", "labelOverlap": false, "tickSize": 4, "labelFontSize": 11.5, "domainWidth": 1.5, "title": null}}}},
      {"data": {"values": [{}]}, "mark": {"type": "text", "text": "ST", "angle": 270, "fontSize": 15, "font": "Open Sans", "fill": "#111", "baseline": "alphabetic", "align": "center"},
       "encoding": {
         "x": {"datum": -28, "type": "quantitative", "scale": {"domain": [-27, 784], "nice": false, "zero": false}, "axis": {"orient": "top", "domain": false, "ticks": false, "labels": false, "title": "American Black Duck vs. Hybrid Swarm", "titleX": 53, "titleY": 10, "titleAlign": "left", "titleAngle": 0, "titleBaseline": "alphabetic", "titleFontSize": 19}},
         "y": {"datum": 0.5, "type": "quantitative", "scale": {"domain": [-0.2, 1], "nice": false, "zero": false}, "axis": {"offset": -27, "values": [-0.2, 0, 0.2, 0.4, 0.6, 0.8, 1], "labelExpr": "'' + datum.value", "labelOverlap": false, "tickSize": 4, "labelFontSize": 11.5, "domainWidth": 1.5, "title": null}}}}
    ]
  },
  {
    "width": 811, "height": 168,
    "layer": [
      {"data": {"name": "ca"}, "mark": {"type": "rule", "strokeDash": [1.5, 1.5], "color": "#222", "strokeWidth": 1},
       "encoding": {
         "x": {"field": "p", "type": "quantitative", "scale": {"domain": [-27, 784], "nice": false, "zero": false}, "axis": {"orient": "top", "domain": false, "ticks": false, "labels": false, "title": "Wild Mallard vs. Hybrid Swarm", "titleX": 39, "titleY": 6, "titleAlign": "left", "titleAngle": 0, "titleBaseline": "alphabetic", "titleFontSize": 19}},
         "y": {"datum": 1.0, "type": "quantitative", "scale": {"domain": [-0.902, 1], "nice": false, "zero": false}, "axis": {"offset": -27, "domain": false, "values": [-0.2, 0, 0.2, 0.4, 0.6, 0.8, 1], "labelExpr": "'' + datum.value", "labelOverlap": false, "tickSize": 4, "labelFontSize": 11.5, "title": null}},
         "y2": {"datum": -0.26}}},
      {"data": {"values": [{}]}, "mark": {"type": "rule", "color": "#111", "strokeWidth": 1.5},
       "encoding": {
         "x": {"datum": 0, "type": "quantitative", "scale": {"domain": [-27, 784], "nice": false, "zero": false}, "axis": {"orient": "top", "domain": false, "ticks": false, "labels": false, "title": "Wild Mallard vs. Hybrid Swarm", "titleX": 39, "titleY": 6, "titleAlign": "left", "titleAngle": 0, "titleBaseline": "alphabetic", "titleFontSize": 19}},
         "y": {"datum": -0.2, "type": "quantitative", "scale": {"domain": [-0.902, 1], "nice": false, "zero": false}, "axis": {"offset": -27, "domain": false, "values": [-0.2, 0, 0.2, 0.4, 0.6, 0.8, 1], "labelExpr": "'' + datum.value", "labelOverlap": false, "tickSize": 4, "labelFontSize": 11.5, "title": null}},
         "y2": {"datum": 1}}},
      {"data": {"name": "a3g"}, "mark": {"type": "point", "shape": "circle", "filled": false, "color": "#a0a0a0", "strokeWidth": 1.8, "size": 26, "opacity": 1},
       "encoding": {
         "x": {"field": "p", "type": "quantitative", "scale": {"domain": [-27, 784], "nice": false, "zero": false}, "axis": {"orient": "top", "domain": false, "ticks": false, "labels": false, "title": "Wild Mallard vs. Hybrid Swarm", "titleX": 39, "titleY": 6, "titleAlign": "left", "titleAngle": 0, "titleBaseline": "alphabetic", "titleFontSize": 19}},
         "y": {"field": "v", "type": "quantitative", "scale": {"domain": [-0.902, 1], "nice": false, "zero": false}, "axis": {"offset": -27, "domain": false, "values": [-0.2, 0, 0.2, 0.4, 0.6, 0.8, 1], "labelExpr": "'' + datum.value", "labelOverlap": false, "tickSize": 4, "labelFontSize": 11.5, "title": null}}}},
      {"data": {"name": "a3r"}, "mark": {"type": "point", "shape": "circle", "filled": true, "fill": "#e2261c", "stroke": "#111", "strokeWidth": 1.3, "size": 55, "opacity": 1},
       "encoding": {
         "x": {"field": "p", "type": "quantitative", "scale": {"domain": [-27, 784], "nice": false, "zero": false}, "axis": {"orient": "top", "domain": false, "ticks": false, "labels": false, "title": "Wild Mallard vs. Hybrid Swarm", "titleX": 39, "titleY": 6, "titleAlign": "left", "titleAngle": 0, "titleBaseline": "alphabetic", "titleFontSize": 19}},
         "y": {"field": "v", "type": "quantitative", "scale": {"domain": [-0.902, 1], "nice": false, "zero": false}, "axis": {"offset": -27, "domain": false, "values": [-0.2, 0, 0.2, 0.4, 0.6, 0.8, 1], "labelExpr": "'' + datum.value", "labelOverlap": false, "tickSize": 4, "labelFontSize": 11.5, "title": null}}}},
      {"data": {"name": "a3r"}, "transform": [{"filter": "datum.s == 1"}], "mark": {"type": "point", "shape": "arrow", "filled": true, "color": "#111", "size": 600, "angle": 202, "xOffset": 6, "yOffset": -19, "opacity": 1},
       "encoding": {
         "x": {"field": "p", "type": "quantitative", "scale": {"domain": [-27, 784], "nice": false, "zero": false}, "axis": {"orient": "top", "domain": false, "ticks": false, "labels": false, "title": "Wild Mallard vs. Hybrid Swarm", "titleX": 39, "titleY": 6, "titleAlign": "left", "titleAngle": 0, "titleBaseline": "alphabetic", "titleFontSize": 19}},
         "y": {"field": "v", "type": "quantitative", "scale": {"domain": [-0.902, 1], "nice": false, "zero": false}, "axis": {"offset": -27, "domain": false, "values": [-0.2, 0, 0.2, 0.4, 0.6, 0.8, 1], "labelExpr": "'' + datum.value", "labelOverlap": false, "tickSize": 4, "labelFontSize": 11.5, "title": null}}}},
      {"data": {"values": [{}]}, "mark": {"type": "rule", "color": "#111", "strokeWidth": 5},
       "encoding": {
         "x": {"datum": -8, "type": "quantitative", "scale": {"domain": [-27, 784], "nice": false, "zero": false}, "axis": {"orient": "top", "domain": false, "ticks": false, "labels": false, "title": "Wild Mallard vs. Hybrid Swarm", "titleX": 39, "titleY": 6, "titleAlign": "left", "titleAngle": 0, "titleBaseline": "alphabetic", "titleFontSize": 19}},
         "x2": {"datum": 778},
         "y": {"datum": -0.46, "type": "quantitative", "scale": {"domain": [-0.902, 1], "nice": false, "zero": false}, "axis": {"offset": -27, "domain": false, "values": [-0.2, 0, 0.2, 0.4, 0.6, 0.8, 1], "labelExpr": "'' + datum.value", "labelOverlap": false, "tickSize": 4, "labelFontSize": 11.5, "title": null}}}}
    ]
  },
  {
    "width": 811, "height": 191,
    "view": {"stroke": "#7a7a7a", "strokeWidth": 2},
    "layer": [
      {"data": {"name": "cb"}, "transform": [{"filter": "datum.p < 670"}], "mark": {"type": "rule", "strokeDash": [1.5, 1.5], "color": "#222", "strokeWidth": 1},
       "encoding": {
         "x": {"field": "p", "type": "quantitative", "scale": {"domain": [-34, 777], "nice": false, "zero": false}, "axis": {"orient": "top", "domain": false, "ticks": false, "labels": false, "title": "(B)", "titleFontWeight": "bold", "titleX": -33, "titleY": -22, "titleAlign": "left", "titleAngle": 0, "titleBaseline": "alphabetic", "titleFontSize": 21}},
         "y": {"datum": 0.45, "type": "quantitative", "scale": {"domain": [-0.705, 0.968], "nice": false, "zero": false}, "axis": {"offset": -34, "domain": false, "values": [-0.6, -0.4, -0.2, 0, 0.2, 0.4, 0.6], "labelExpr": "datum.value == 0 ? '0' : '' + abs(datum.value)", "labelOverlap": false, "tickSize": 4, "labelFontSize": 10, "title": "Sequence Capture Inter- and Intra-specific Historical vs. Contemporary Comparisons", "titleAngle": 0, "titleAlign": "left", "titleBaseline": "alphabetic", "titleX": -35, "titleY": -22, "titleFontSize": 21.5}},
         "y2": {"datum": -0.66}}},
      {"data": {"name": "cb"}, "transform": [{"filter": "datum.p >= 670"}], "mark": {"type": "rule", "strokeDash": [1.5, 1.5], "color": "#222", "strokeWidth": 1},
       "encoding": {
         "x": {"field": "p", "type": "quantitative", "scale": {"domain": [-34, 777], "nice": false, "zero": false}, "axis": {"orient": "top", "domain": false, "ticks": false, "labels": false, "title": "(B)", "titleFontWeight": "bold", "titleX": -33, "titleY": -22, "titleAlign": "left", "titleAngle": 0, "titleBaseline": "alphabetic", "titleFontSize": 21}},
         "y": {"datum": 0.45, "type": "quantitative", "scale": {"domain": [-0.705, 0.968], "nice": false, "zero": false}, "axis": {"offset": -34, "domain": false, "values": [-0.6, -0.4, -0.2, 0, 0.2, 0.4, 0.6], "labelExpr": "datum.value == 0 ? '0' : '' + abs(datum.value)", "labelOverlap": false, "tickSize": 4, "labelFontSize": 10, "title": "Sequence Capture Inter- and Intra-specific Historical vs. Contemporary Comparisons", "titleAngle": 0, "titleAlign": "left", "titleBaseline": "alphabetic", "titleX": -35, "titleY": -22, "titleFontSize": 21.5}},
         "y2": {"datum": -0.85}}},
      {"data": {"values": [{}]}, "mark": {"type": "rule", "color": "#111", "strokeWidth": 1.3},
       "encoding": {
         "x": {"datum": 0, "type": "quantitative", "scale": {"domain": [-34, 777], "nice": false, "zero": false}, "axis": {"orient": "top", "domain": false, "ticks": false, "labels": false, "title": "(B)", "titleFontWeight": "bold", "titleX": -33, "titleY": -22, "titleAlign": "left", "titleAngle": 0, "titleBaseline": "alphabetic", "titleFontSize": 21}},
         "y": {"datum": -0.6, "type": "quantitative", "scale": {"domain": [-0.705, 0.968], "nice": false, "zero": false}, "axis": {"offset": -34, "domain": false, "values": [-0.6, -0.4, -0.2, 0, 0.2, 0.4, 0.6], "labelExpr": "datum.value == 0 ? '0' : '' + abs(datum.value)", "labelOverlap": false, "tickSize": 4, "labelFontSize": 10, "title": "Sequence Capture Inter- and Intra-specific Historical vs. Contemporary Comparisons", "titleAngle": 0, "titleAlign": "left", "titleBaseline": "alphabetic", "titleX": -35, "titleY": -22, "titleFontSize": 21.5}},
         "y2": {"datum": 0.6}}},
      {"data": {"name": "br"}, "mark": {"type": "text", "text": "︷", "font": "Noto Sans CJK SC", "fill": "#222", "baseline": "middle", "align": "center"},
       "encoding": {
         "x": {"field": "p", "type": "quantitative", "scale": {"domain": [-34, 777], "nice": false, "zero": false}, "axis": {"orient": "top", "domain": false, "ticks": false, "labels": false, "title": "(B)", "titleFontWeight": "bold", "titleX": -33, "titleY": -22, "titleAlign": "left", "titleAngle": 0, "titleBaseline": "alphabetic", "titleFontSize": 21}},
         "y": {"datum": 0.55, "type": "quantitative", "scale": {"domain": [-0.705, 0.968], "nice": false, "zero": false}, "axis": {"offset": -34, "domain": false, "values": [-0.6, -0.4, -0.2, 0, 0.2, 0.4, 0.6], "labelExpr": "datum.value == 0 ? '0' : '' + abs(datum.value)", "labelOverlap": false, "tickSize": 4, "labelFontSize": 10, "title": "Sequence Capture Inter- and Intra-specific Historical vs. Contemporary Comparisons", "titleAngle": 0, "titleAlign": "left", "titleBaseline": "alphabetic", "titleX": -35, "titleY": -22, "titleFontSize": 21.5}},
         "size": {"field": "w", "type": "quantitative", "scale": {"domain": [7, 28], "range": [10, 32]}, "legend": null}}},
      {"data": {"name": "bh"}, "mark": {"type": "line", "strokeWidth": 1.3},
       "encoding": {
         "x": {"field": "p", "type": "quantitative", "scale": {"domain": [-34, 777], "nice": false, "zero": false}, "axis": {"orient": "top", "domain": false, "ticks": false, "labels": false, "title": "(B)", "titleFontWeight": "bold", "titleX": -33, "titleY": -22, "titleAlign": "left", "titleAngle": 0, "titleBaseline": "alphabetic", "titleFontSize": 21}},
         "y": {"field": "v", "type": "quantitative", "scale": {"domain": [-0.705, 0.968], "nice": false, "zero": false}, "axis": {"offset": -34, "domain": false, "values": [-0.6, -0.4, -0.2, 0, 0.2, 0.4, 0.6], "labelExpr": "datum.value == 0 ? '0' : '' + abs(datum.value)", "labelOverlap": false, "tickSize": 4, "labelFontSize": 10, "title": "Sequence Capture Inter- and Intra-specific Historical vs. Contemporary Comparisons", "titleAngle": 0, "titleAlign": "left", "titleBaseline": "alphabetic", "titleX": -35, "titleY": -22, "titleFontSize": 21.5}},
         "color": {"datum": "Historical Mallards and American Black Ducks", "type": "nominal", "scale": {"domain": ["Historical Mallards and American Black Ducks", "Contemporary Mallards and American Black Ducks"], "range": ["#b5b5b5", "#141414"]}, "legend": {"orient": "none", "legendX": 6, "legendY": 424, "title": null, "symbolType": "stroke", "symbolSize": 400, "symbolStrokeWidth": 3, "labelFontSize": 19, "labelColor": "#222", "labelFont": "Open Sans", "clipHeight": 16, "rowPadding": 2, "labelOffset": 5, "labelLimit": 700}}}},
      {"data": {"name": "bc"}, "mark": {"type": "line", "strokeWidth": 1.8},
       "encoding": {
         "x": {"field": "p", "type": "quantitative", "scale": {"domain": [-34, 777], "nice": false, "zero": false}, "axis": {"orient": "top", "domain": false, "ticks": false, "labels": false, "title": "(B)", "titleFontWeight": "bold", "titleX": -33, "titleY": -22, "titleAlign": "left", "titleAngle": 0, "titleBaseline": "alphabetic", "titleFontSize": 21}},
         "y": {"field": "v", "type": "quantitative", "scale": {"domain": [-0.705, 0.968], "nice": false, "zero": false}, "axis": {"offset": -34, "domain": false, "values": [-0.6, -0.4, -0.2, 0, 0.2, 0.4, 0.6], "labelExpr": "datum.value == 0 ? '0' : '' + abs(datum.value)", "labelOverlap": false, "tickSize": 4, "labelFontSize": 10, "title": "Sequence Capture Inter- and Intra-specific Historical vs. Contemporary Comparisons", "titleAngle": 0, "titleAlign": "left", "titleBaseline": "alphabetic", "titleX": -35, "titleY": -22, "titleFontSize": 21.5}},
         "color": {"datum": "Contemporary Mallards and American Black Ducks", "type": "nominal"}}}
    ]
  },
  {
    "width": 811, "height": 92,
    "layer": [
      {"data": {"name": "cb"}, "transform": [{"filter": "datum.p < 670"}], "mark": {"type": "rule", "strokeDash": [1.5, 1.5], "color": "#222", "strokeWidth": 1},
       "encoding": {
         "x": {"field": "p", "type": "quantitative", "scale": {"domain": [-34, 777], "nice": false, "zero": false}, "axis": {"orient": "top", "domain": false, "ticks": false, "labels": false, "title": "Between American Black Ducks", "titleX": 41, "titleY": 9, "titleAlign": "left", "titleAngle": 0, "titleBaseline": "alphabetic", "titleFontSize": 19}},
         "y": {"datum": 0.46, "type": "quantitative", "scale": {"domain": [-0.2, 0.6], "nice": false, "zero": false}, "axis": {"offset": -34, "values": [-0.2, 0, 0.2, 0.4, 0.6], "labelExpr": "'' + datum.value", "labelOverlap": false, "tickSize": 4, "labelFontSize": 10, "domainWidth": 1.3, "title": null}},
         "y2": {"datum": -0.34}}},
      {"data": {"name": "cb"}, "transform": [{"filter": "datum.p >= 670"}], "mark": {"type": "rule", "strokeDash": [1.5, 1.5], "color": "#222", "strokeWidth": 1},
       "encoding": {
         "x": {"field": "p", "type": "quantitative", "scale": {"domain": [-34, 777], "nice": false, "zero": false}, "axis": {"orient": "top", "domain": false, "ticks": false, "labels": false, "title": "Between American Black Ducks", "titleX": 41, "titleY": 9, "titleAlign": "left", "titleAngle": 0, "titleBaseline": "alphabetic", "titleFontSize": 19}},
         "y": {"datum": 0.75, "type": "quantitative", "scale": {"domain": [-0.2, 0.6], "nice": false, "zero": false}, "axis": {"offset": -34, "values": [-0.2, 0, 0.2, 0.4, 0.6], "labelExpr": "'' + datum.value", "labelOverlap": false, "tickSize": 4, "labelFontSize": 10, "domainWidth": 1.3, "title": null}},
         "y2": {"datum": -0.36}}},
      {"data": {"name": "b2"}, "mark": {"type": "line", "color": "#141414", "strokeWidth": 1.4},
       "encoding": {
         "x": {"field": "p", "type": "quantitative", "scale": {"domain": [-34, 777], "nice": false, "zero": false}, "axis": {"orient": "top", "domain": false, "ticks": false, "labels": false, "title": "Between American Black Ducks", "titleX": 41, "titleY": 9, "titleAlign": "left", "titleAngle": 0, "titleBaseline": "alphabetic", "titleFontSize": 19}},
         "y": {"field": "v", "type": "quantitative", "scale": {"domain": [-0.2, 0.6], "nice": false, "zero": false}, "axis": {"offset": -34, "values": [-0.2, 0, 0.2, 0.4, 0.6], "labelExpr": "'' + datum.value", "labelOverlap": false, "tickSize": 4, "labelFontSize": 10, "domainWidth": 1.3, "title": null}}}}
    ]
  },
  {
    "width": 811, "height": 90,
    "layer": [
      {"data": {"name": "cb"}, "transform": [{"filter": "datum.p < 670"}], "mark": {"type": "rule", "strokeDash": [1.5, 1.5], "color": "#222", "strokeWidth": 1},
       "encoding": {
         "x": {"field": "p", "type": "quantitative", "scale": {"domain": [-34, 777], "nice": false, "zero": false}, "axis": {"values": [18, 88, 751], "labelExpr": "datum.value < 50 ? 'Z' : (datum.value < 100 ? '1' : '29')", "domain": false, "ticks": false, "grid": false, "labelFontSize": 20, "labelPadding": 11, "labelColor": "#222", "labelOverlap": false, "labelFlush": false, "title": "Chromosomal Position", "titleFontSize": 28, "titleFontWeight": "normal", "titleColor": "#222", "titlePadding": 5, "titleX": 426}},
         "y": {"datum": 0.45, "type": "quantitative", "scale": {"domain": [-0.2, 0.6], "nice": false, "zero": false}, "axis": {"offset": -34, "values": [-0.2, 0, 0.2, 0.4, 0.6], "labelExpr": "'' + datum.value", "labelOverlap": false, "tickSize": 4, "labelFontSize": 10, "domainWidth": 1.3, "title": "Between Mallards", "titleAngle": 0, "titleAlign": "left", "titleBaseline": "alphabetic", "titleX": 7, "titleY": 18, "titleFontSize": 19}},
         "y2": {"datum": -0.28}}},
      {"data": {"name": "cb"}, "transform": [{"filter": "datum.p >= 670"}], "mark": {"type": "rule", "strokeDash": [1.5, 1.5], "color": "#222", "strokeWidth": 1},
       "encoding": {
         "x": {"field": "p", "type": "quantitative", "scale": {"domain": [-34, 777], "nice": false, "zero": false}, "axis": {"values": [18, 88, 751], "labelExpr": "datum.value < 50 ? 'Z' : (datum.value < 100 ? '1' : '29')", "domain": false, "ticks": false, "grid": false, "labelFontSize": 20, "labelPadding": 11, "labelColor": "#222", "labelOverlap": false, "labelFlush": false, "title": "Chromosomal Position", "titleFontSize": 28, "titleFontWeight": "normal", "titleColor": "#222", "titlePadding": 5, "titleX": 426}},
         "y": {"datum": 0.75, "type": "quantitative", "scale": {"domain": [-0.2, 0.6], "nice": false, "zero": false}, "axis": {"offset": -34, "values": [-0.2, 0, 0.2, 0.4, 0.6], "labelExpr": "'' + datum.value", "labelOverlap": false, "tickSize": 4, "labelFontSize": 10, "domainWidth": 1.3, "title": "Between Mallards", "titleAngle": 0, "titleAlign": "left", "titleBaseline": "alphabetic", "titleX": 7, "titleY": 18, "titleFontSize": 19}},
         "y2": {"datum": -0.28}}},
      {"data": {"name": "b3"}, "mark": {"type": "line", "color": "#141414", "strokeWidth": 1.4},
       "encoding": {
         "x": {"field": "p", "type": "quantitative", "scale": {"domain": [-34, 777], "nice": false, "zero": false}, "axis": {"values": [18, 88, 751], "labelExpr": "datum.value < 50 ? 'Z' : (datum.value < 100 ? '1' : '29')", "domain": false, "ticks": false, "grid": false, "labelFontSize": 20, "labelPadding": 11, "labelColor": "#222", "labelOverlap": false, "labelFlush": false, "title": "Chromosomal Position", "titleFontSize": 28, "titleFontWeight": "normal", "titleColor": "#222", "titlePadding": 5, "titleX": 426}},
         "y": {"field": "v", "type": "quantitative", "scale": {"domain": [-0.2, 0.6], "nice": false, "zero": false}, "axis": {"offset": -34, "values": [-0.2, 0, 0.2, 0.4, 0.6], "labelExpr": "'' + datum.value", "labelOverlap": false, "tickSize": 4, "labelFontSize": 10, "domainWidth": 1.3, "title": "Between Mallards", "titleAngle": 0, "titleAlign": "left", "titleBaseline": "alphabetic", "titleX": 7, "titleY": 18, "titleFontSize": 19}}}},
      {"data": {"name": "b3r"}, "mark": {"type": "point", "shape": "circle", "filled": true, "fill": "#e2261c", "stroke": "#111", "strokeWidth": 1.2, "size": 40, "opacity": 1},
       "encoding": {
         "x": {"field": "p", "type": "quantitative", "scale": {"domain": [-34, 777], "nice": false, "zero": false}, "axis": {"values": [18, 88, 751], "labelExpr": "datum.value < 50 ? 'Z' : (datum.value < 100 ? '1' : '29')", "domain": false, "ticks": false, "grid": false, "labelFontSize": 20, "labelPadding": 11, "labelColor": "#222", "labelOverlap": false, "labelFlush": false, "title": "Chromosomal Position", "titleFontSize": 28, "titleFontWeight": "normal", "titleColor": "#222", "titlePadding": 5, "titleX": 426}},
         "y": {"field": "v", "type": "quantitative", "scale": {"domain": [-0.2, 0.6], "nice": false, "zero": false}, "axis": {"offset": -34, "values": [-0.2, 0, 0.2, 0.4, 0.6], "labelExpr": "'' + datum.value", "labelOverlap": false, "tickSize": 4, "labelFontSize": 10, "domainWidth": 1.3, "title": "Between Mallards", "titleAngle": 0, "titleAlign": "left", "titleBaseline": "alphabetic", "titleX": 7, "titleY": 18, "titleFontSize": 19}}}},
      {"data": {"name": "b3r"}, "mark": {"type": "point", "shape": "arrow", "filled": true, "color": "#111", "size": 560, "angle": 202, "xOffset": 5, "yOffset": -18, "opacity": 1},
       "encoding": {
         "x": {"field": "p", "type": "quantitative", "scale": {"domain": [-34, 777], "nice": false, "zero": false}, "axis": {"values": [18, 88, 751], "labelExpr": "datum.value < 50 ? 'Z' : (datum.value < 100 ? '1' : '29')", "domain": false, "ticks": false, "grid": false, "labelFontSize": 20, "labelPadding": 11, "labelColor": "#222", "labelOverlap": false, "labelFlush": false, "title": "Chromosomal Position", "titleFontSize": 28, "titleFontWeight": "normal", "titleColor": "#222", "titlePadding": 5, "titleX": 426}},
         "y": {"field": "v", "type": "quantitative", "scale": {"domain": [-0.2, 0.6], "nice": false, "zero": false}, "axis": {"offset": -34, "values": [-0.2, 0, 0.2, 0.4, 0.6], "labelExpr": "'' + datum.value", "labelOverlap": false, "tickSize": 4, "labelFontSize": 10, "domainWidth": 1.3, "title": "Between Mallards", "titleAngle": 0, "titleAlign": "left", "titleBaseline": "alphabetic", "titleX": 7, "titleY": 18, "titleFontSize": 19}}}},
      {"data": {"name": "wd"}, "mark": {"type": "trail", "color": "#111"},
       "encoding": {
         "x": {"field": "p", "type": "quantitative", "scale": {"domain": [-34, 777], "nice": false, "zero": false}, "axis": {"values": [18, 88, 751], "labelExpr": "datum.value < 50 ? 'Z' : (datum.value < 100 ? '1' : '29')", "domain": false, "ticks": false, "grid": false, "labelFontSize": 20, "labelPadding": 11, "labelColor": "#222", "labelOverlap": false, "labelFlush": false, "title": "Chromosomal Position", "titleFontSize": 28, "titleFontWeight": "normal", "titleColor": "#222", "titlePadding": 5, "titleX": 426}},
         "y": {"datum": -0.413, "type": "quantitative", "scale": {"domain": [-0.2, 0.6], "nice": false, "zero": false}, "axis": {"offset": -34, "values": [-0.2, 0, 0.2, 0.4, 0.6], "labelExpr": "'' + datum.value", "labelOverlap": false, "tickSize": 4, "labelFontSize": 10, "domainWidth": 1.3, "title": "Between Mallards", "titleAngle": 0, "titleAlign": "left", "titleBaseline": "alphabetic", "titleX": 7, "titleY": 18, "titleFontSize": 19}},
         "size": {"field": "w", "type": "quantitative", "scale": null, "legend": null}}}
    ]
  }
]
}
